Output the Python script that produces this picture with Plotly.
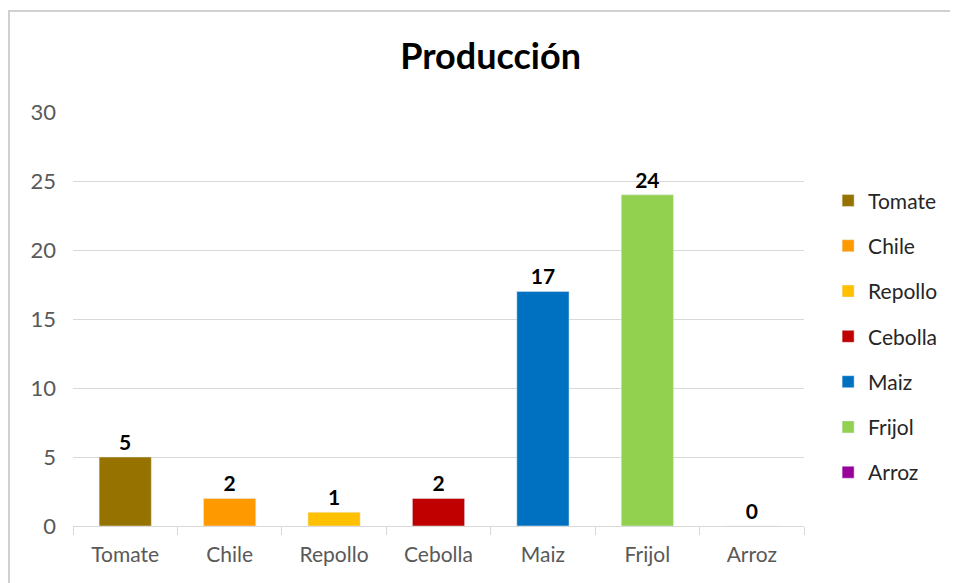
import plotly.graph_objects as go

# Data
cultivos = ["Tomate", "Chile", "Repollo", "Cebolla", "Maiz", "Frijol", "Arroz"]
produccion = [5, 2, 1, 2, 17, 24, 0]
colores = ["#967200", "#FF9900", "#FFC000", "#C00000", "#0070C0", "#92D050", "#990099"]

FONT = "Lato"
GRID = "#d9d9d9"

fig = go.Figure()

# one trace per crop so each gets its own legend entry
for nombre, valor, color in zip(cultivos, produccion, colores):
    fig.add_trace(go.Bar(
        name=nombre,
        x=[nombre],
        y=[valor],
        marker_color=color,
        legendgroup=nombre,
        text=[valor],
        textposition="outside",
        textfont=dict(family=FONT, size=21, color="black", weight="bold"),
        cliponaxis=False,
    ))

# the page has an 8px body margin, so the margins are trimmed to match
fig.update_layout(
    width=950,
    height=575,
    margin=dict(l=65, r=154, t=104, b=57),
    paper_bgcolor="white",
    plot_bgcolor="white",
    barmode="overlay",
    bargap=0.5,
    font=dict(family=FONT, color="#595959"),
    title=dict(
        text="<b>Producción</b>",
        x=0.508, xref="container", xanchor="center",
        y=0.915, yref="container", yanchor="middle",
        font=dict(family=FONT, size=36, color="black"),
    ),
    legend=dict(
        x=1.033, xanchor="left",
        y=0.835, yanchor="top",
        font=dict(family=FONT, size=21, color="#262626"),
        tracegroupgap=15,
        bgcolor="rgba(0,0,0,0)",
    ),
    showlegend=True,
    # chart frame: only the left and top edges are visible in the crop
    shapes=[dict(
        type="path", xref="paper", yref="paper",
        path="M -0.0876,-0.3 L -0.0876,1.244 L 1.4,1.244",
        line=dict(color="#d0d0d0", width=2),
        layer="below",
    )],
)

fig.update_xaxes(
    type="category",
    showline=True, linecolor=GRID, linewidth=1,
    tickson="boundaries", ticks="outside", ticklen=8, tickcolor=GRID,
    ticklabelstandoff=10,
    tickfont=dict(family=FONT, size=21, color="#595959"),
    showgrid=False,
)

fig.update_yaxes(
    range=[0, 30], dtick=5,
    showgrid=True, gridcolor=GRID, gridwidth=1,
    zeroline=False, showline=False,
    ticks="", ticklabelstandoff=16,
    tickfont=dict(family=FONT, size=22, color="#595959"),
)

fig.write_html("out.html")
